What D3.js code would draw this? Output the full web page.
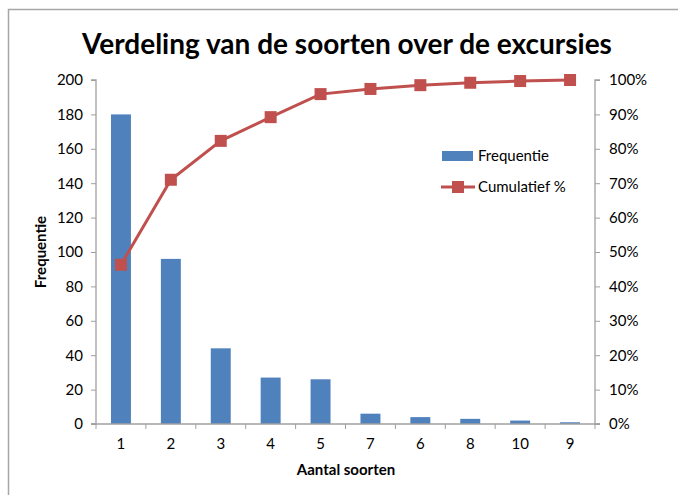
<html>
<head>
  <script src="https://d3js.org/d3.v7.min.js"></script>
  <style>
  body { margin: 0; background: #fff; }
  text { font-family: Lato, "Open Sans", sans-serif; fill: #000; }
  .axis path, .axis line { stroke: #a0a0a0; }
  </style>
</head>
<body>
  <svg id="pareto" width="678" height="495"></svg>
  <script>

var categories = ["1", "2", "3", "4", "5", "7", "6", "8", "10", "9"];
var frequentie = [180, 96, 44, 27, 26, 6, 4, 3, 2, 1];
var cumulatief = [46.3, 71.0, 82.3, 89.2, 95.9, 97.4, 98.5, 99.2, 99.7, 100];
var leftTicks = [0, 20, 40, 60, 80, 100, 120, 140, 160, 180, 200];
var rightTicks = [0, 10, 20, 30, 40, 50, 60, 70, 80, 90, 100];

var svg = d3.select("#pareto");

// chart frame (runs off the right and bottom edge like the screenshot)
svg.append("rect")
  .attr("x", 8.5).attr("y", 9.5)
  .attr("width", 700).attr("height", 520)
  .attr("fill", "#fff")
  .attr("stroke", "#a6a6a6")
  .attr("stroke-width", 1.5);

var plotL = 96, plotR = 595, plotT = 80, plotB = 424;

var x = d3.scaleBand()
  .domain(categories)
  .range([plotL, plotR]);

var yL = d3.scaleLinear().domain([0, 200]).range([plotB, plotT]);
var yR = d3.scaleLinear().domain([0, 100]).range([plotB, plotT]);

// bars
svg.append("g")
  .selectAll("rect")
  .data(frequentie)
  .enter().append("rect")
    .attr("x", function(d, i) { return x(categories[i]) + x.bandwidth() * 0.3; })
    .attr("width", x.bandwidth() * 0.4)
    .attr("y", function(d) { return yL(d); })
    .attr("height", function(d) { return plotB - yL(d); })
    .attr("fill", "#4f81bd");

// axes
var axL = svg.append("g")
  .attr("class", "axis")
  .attr("transform", "translate(" + plotL + ",0)")
  .call(d3.axisLeft(yL).tickValues(leftTicks).tickSize(5).tickPadding(8));

var axR = svg.append("g")
  .attr("class", "axis")
  .attr("transform", "translate(" + plotR + ",0)")
  .call(d3.axisRight(yR).tickValues(rightTicks).tickSize(5).tickPadding(9)
    .tickFormat(function(d) { return d + "%"; }));

var axB = svg.append("g")
  .attr("class", "axis")
  .attr("transform", "translate(0," + plotB + ")")
  .call(d3.axisBottom(x).tickSize(0).tickPadding(14));

// x ticks sit on band edges
axB.selectAll(".edge")
  .data(d3.range(categories.length + 1))
  .enter().append("line")
    .attr("class", "edge")
    .attr("x1", function(i) { return plotL + i * x.step(); })
    .attr("x2", function(i) { return plotL + i * x.step(); })
    .attr("y1", 0).attr("y2", 5)
    .attr("stroke", "#a0a0a0");

[axL, axR, axB].forEach(function(a) {
  a.selectAll("text").style("font-size", "15px").style("font-family", "Lato, sans-serif");
  a.select(".domain").attr("stroke", "#a0a0a0").attr("stroke-width", 1.3);
});
axL.select(".domain").attr("d", "M-5," + plotT + "H0V" + plotB + "H-5");
axR.select(".domain").attr("d", "M5," + plotT + "H0V" + plotB + "H5");
axB.select(".domain").attr("d", "M" + (plotL - 5) + ",0H" + (plotR + 5));

// cumulative line
var line = d3.line()
  .x(function(d, i) { return x(categories[i]) + x.bandwidth() / 2; })
  .y(function(d) { return yR(d); });

svg.append("path")
  .datum(cumulatief)
  .attr("d", line)
  .attr("fill", "none")
  .attr("stroke", "#c0504d")
  .attr("stroke-width", 3);

svg.append("g")
  .selectAll("rect")
  .data(cumulatief)
  .enter().append("rect")
    .attr("x", function(d, i) { return x(categories[i]) + x.bandwidth() / 2 - 6; })
    .attr("y", function(d) { return yR(d) - 6; })
    .attr("width", 12).attr("height", 12)
    .attr("fill", "#c0504d");

// titles
svg.append("text")
  .attr("x", 347).attr("y", 54)
  .attr("text-anchor", "middle")
  .style("font-size", "28px").style("font-weight", "bold")
  .text("Verdeling van de soorten over de excursies");

svg.append("text")
  .attr("x", 346).attr("y", 475)
  .attr("text-anchor", "middle")
  .style("font-size", "15px").style("font-weight", "bold")
  .text("Aantal soorten");

svg.append("text")
  .attr("transform", "translate(46,252) rotate(-90)")
  .attr("text-anchor", "middle")
  .style("font-size", "15px").style("font-weight", "bold")
  .text("Frequentie");

// legend
svg.append("rect")
  .attr("x", 442).attr("y", 151).attr("width", 31).attr("height", 10)
  .attr("fill", "#4f81bd");
svg.append("text")
  .attr("x", 478).attr("y", 161)
  .style("font-size", "15px")
  .text("Frequentie");

svg.append("line")
  .attr("x1", 441).attr("x2", 475).attr("y1", 187).attr("y2", 187)
  .attr("stroke", "#c0504d").attr("stroke-width", 3);
svg.append("rect")
  .attr("x", 452).attr("y", 181).attr("width", 12).attr("height", 12)
  .attr("fill", "#c0504d");
svg.append("text")
  .attr("x", 478).attr("y", 192)
  .style("font-size", "15px")
  .text("Cumulatief %");

  </script>
</body>
</html>
